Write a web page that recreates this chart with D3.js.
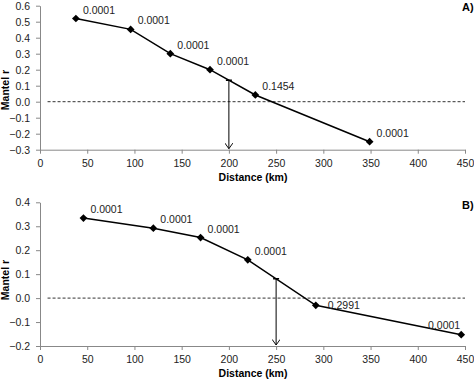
<!DOCTYPE html>
<html>
<head>
<meta charset="utf-8">
<script src="https://cdn.jsdelivr.net/npm/d3@7"></script>
<style>
  body { margin: 0; background: #fff; }
  svg text { font-family: "Liberation Sans", Arial, sans-serif; }
</style>
</head>
<body>
<div id="chart"></div>
<script>
// panel A
const distA = [38, 96, 138, 180, 228, 349];
const mantelA = [0.52, 0.452, 0.30, 0.20, 0.042, -0.25];
const pA = ["0.0001", "0.0001", "0.0001", "0.0001", "0.1454", "0.0001"];
const yTicksA = [-0.3, -0.2, -0.1, 0, 0.1, 0.2, 0.3, 0.4, 0.5, 0.6];
const crossA = 200;

// panel B
const distB = [46, 120, 170, 220, 292, 446];
const mantelB = [0.334, 0.292, 0.253, 0.16, -0.03, -0.153];
const pB = ["0.0001", "0.0001", "0.0001", "0.0001", "0.2991", "0.0001"];
const yTicksB = [-0.2, -0.1, 0, 0.1, 0.2, 0.3, 0.4];
const crossB = 250;

const xTicks = [0, 50, 100, 150, 200, 250, 300, 350, 400, 450];

const W = 474, H = 381;
const svg = d3.select("#chart").append("svg")
  .attr("width", W).attr("height", H);

const defs = svg.append("defs");
defs.append("marker")
  .attr("id", "arrow")
  .attr("viewBox", "0 0 10 10")
  .attr("refX", 5).attr("refY", 10)
  .attr("markerWidth", 8).attr("markerHeight", 8)
  .attr("markerUnits", "userSpaceOnUse")
  .attr("orient", "0")
  .append("path")
  .attr("d", "M0,3 L5,10 L10,3")
  .attr("fill", "none")
  .attr("stroke", "#000")
  .attr("stroke-width", 1.2);

function drawPanel(cfg) {
  const x = d3.scaleLinear().domain([0, 450]).range([40, 465]);
  const y = d3.scaleLinear().domain(cfg.yDomain).range(cfg.yRange);
  const g = svg.append("g");
  const data = cfg.dist.map((d, i) => ({ d, r: cfg.mantel[i], p: cfg.p[i], pos: cfg.labelPos[i] }));

  // axes
  const xAxis = g.append("g")
    .attr("transform", `translate(0,${cfg.yRange[0]})`)
    .call(d3.axisBottom(x).tickValues(xTicks).tickSize(4).tickPadding(6).tickSizeOuter(0));
  const yAxis = g.append("g")
    .attr("transform", `translate(40,0)`)
    .call(d3.axisLeft(y).tickValues(cfg.yTicks).tickSize(4).tickPadding(6).tickSizeOuter(0)
      .tickFormat(d3.format(".1f")));
  [xAxis, yAxis].forEach((a) => {
    a.select(".domain").attr("stroke", "#888");
    a.selectAll(".tick line").attr("stroke", "#888");
    a.selectAll("text").attr("fill", "#222").style("font-size", "10.5px");
  });

  // zero line
  g.append("line")
    .attr("x1", x(8)).attr("x2", x(450))
    .attr("y1", y(0)).attr("y2", y(0))
    .attr("stroke", "#333").attr("stroke-width", 1)
    .attr("stroke-dasharray", "3,2");

  // series line
  g.append("path")
    .datum(data)
    .attr("d", d3.line().x((d) => x(d.d)).y((d) => y(d.r)))
    .attr("fill", "none").attr("stroke", "#000").attr("stroke-width", 1.5);

  // arrow at crossing distance
  const i = data.findIndex((d) => d.d > cfg.cross);
  const a = data[i - 1], b = data[i];
  const rc = a.r + (b.r - a.r) * (cfg.cross - a.d) / (b.d - a.d);
  g.append("line")
    .attr("x1", x(cfg.cross) - 3).attr("x2", x(cfg.cross) + 3)
    .attr("y1", y(rc)).attr("y2", y(rc))
    .attr("stroke", "#000").attr("stroke-width", 1.5);
  g.append("line")
    .attr("x1", x(cfg.cross)).attr("x2", x(cfg.cross))
    .attr("y1", y(rc)).attr("y2", cfg.yRange[0] - 1)
    .attr("stroke", "#000").attr("stroke-width", 1)
    .attr("marker-end", "url(#arrow)");

  // markers (square turned 45deg)
  g.selectAll(".pt").data(data).enter().append("path")
    .attr("class", "pt")
    .attr("d", d3.symbol().type(d3.symbolSquare).size(30))
    .attr("transform", (d) => `translate(${x(d.d)},${y(d.r)}) rotate(45)`)
    .attr("fill", "#000");

  // p-value labels
  const off = {
    ur: { dx: 7, dy: -5, anchor: "start" },
    r: { dx: 12, dy: 4, anchor: "start" },
    ul: { dx: -1, dy: -6, anchor: "end" },
  };
  g.selectAll(".lbl").data(data).enter().append("text")
    .attr("class", "lbl")
    .attr("x", (d) => x(d.d) + off[d.pos].dx)
    .attr("y", (d) => y(d.r) + off[d.pos].dy)
    .attr("text-anchor", (d) => off[d.pos].anchor)
    .attr("fill", "#222")
    .style("font-size", "10.5px")
    .text((d) => d.p);

  // titles
  g.append("text")
    .attr("x", 253).attr("y", cfg.yRange[0] + 31)
    .attr("text-anchor", "middle")
    .style("font-size", "10.5px").style("font-weight", "bold")
    .text("Distance (km)");
  g.append("text")
    .attr("transform", `translate(9,${cfg.titleY}) rotate(-90)`)
    .attr("text-anchor", "middle")
    .style("font-size", "10.5px").style("font-weight", "bold")
    .text("Mantel r");
  g.append("text")
    .attr("x", 462).attr("y", cfg.panelY)
    .style("font-size", "11px").style("font-weight", "bold")
    .text(cfg.panel);
}

drawPanel({
  dist: distA, mantel: mantelA, p: pA, yTicks: yTicksA, cross: crossA,
  labelPos: ["ur", "ur", "ur", "ur", "ur", "ur"],
  yDomain: [-0.3, 0.6], yRange: [149.7, 5.7],
  titleY: 90, panel: "A)", panelY: 11,
});
drawPanel({
  dist: distB, mantel: mantelB, p: pB, yTicks: yTicksB, cross: crossB,
  labelPos: ["ur", "ur", "ur", "ur", "r", "ul"],
  yDomain: [-0.2, 0.4], yRange: [346, 202.3],
  titleY: 280, panel: "B)", panelY: 209,
});
</script>
</body>
</html>
